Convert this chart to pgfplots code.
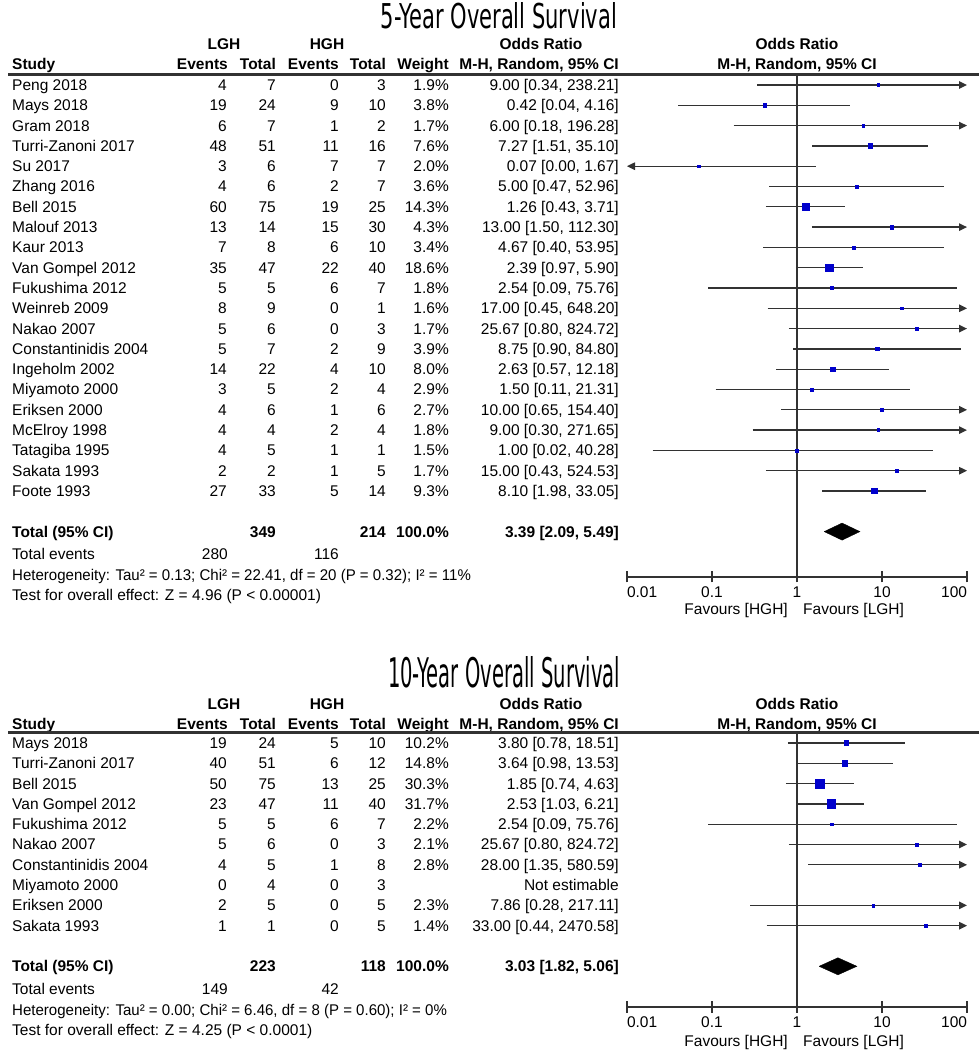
\documentclass[border=0pt]{standalone}
\usepackage{fontspec}
\setmainfont{Liberation Sans}
\newfontfamily\titlefont{DejaVu Sans}
\usepackage{pgfplots}
\pgfplotsset{compat=1.18}
\usetikzlibrary{arrows.meta}
\definecolor{mkblue}{RGB}{0,0,204}
\definecolor{lncol}{RGB}{50,50,50}
\newcommand{\fs}{\fontsize{15.5}{18}\selectfont}
% text helpers: x = pixel position, y = pixel centre from top
\newcommand{\TxR}[3]{\node[anchor=base east,inner sep=0pt] at (#1pt,{(1044.5-(#2))*1pt}) {#3};}
\newcommand{\TxL}[3]{\node[anchor=base west,inner sep=0pt] at (#1pt,{(1044.5-(#2))*1pt}) {#3};}
\newcommand{\TxC}[3]{\node[anchor=base,inner sep=0pt] at (#1pt,{(1044.5-(#2))*1pt}) {#3};}
\newcommand{\trow}[8]{\TxL{12}{#1}{#2}\TxR{227}{#1}{#3}\TxR{276}{#1}{#4}\TxR{339}{#1}{#5}\TxR{386}{#1}{#6}\TxR{449}{#1}{#7}\TxR{619}{#1}{#8}}
\newcommand{\yt}[1]{85+(#1-1)*20.3}
\newcommand{\yb}[1]{743+(#1-1)*20.3}
% study marker: odds ratio, row, half side (pt, from weight)
\newcommand{\mk}[3]{\addplot[only marks, mark=square*, draw=mkblue, fill=mkblue, mark size=#3pt] coordinates {(#1,-#2)};}

\tikzset{
  ci/.style={lncol, line width=1.3pt, mark=none},
  cir/.style={ci, -{Triangle[length=8pt,width=7.5pt]}},
  cil/.style={ci, {Triangle[length=8pt,width=7.5pt]}-},
}

\begin{document}
\begin{tikzpicture}[every node/.style={font=\fs}]
\useasboundingbox (0pt,0pt) rectangle (979pt,1050pt);
\fill[white] (0pt,0pt) rectangle (979pt,1050pt);

% ================= TOP PANEL =================
\node at (499pt,1034pt) {\resizebox{236pt}{26pt}{\titlefont 5-Year Overall Survival}};
\TxC{224}{44}{\textbf{LGH}}
\TxC{327}{44}{\textbf{HGH}}
\TxC{541}{44}{\textbf{Odds Ratio}}
\TxC{797}{44}{\textbf{Odds Ratio}}
\TxL{12}{64}{\textbf{Study}}
\TxR{228}{64}{\textbf{Events}}
\TxR{276}{64}{\textbf{Total}}
\TxR{339}{64}{\textbf{Events}}
\TxR{386}{64}{\textbf{Total}}
\TxR{449}{64}{\textbf{Weight}}
\TxR{619}{64}{\textbf{M-H, Random, 95\% CI}}
\TxC{797}{64}{\textbf{M-H, Random, 95\% CI}}
\draw[lncol, line width=2.2pt] (8pt,975.5pt) -- (979pt,975.5pt);

\trow{\yt{1}}{Peng 2018}{4}{7}{0}{3}{1.9\%}{9.00 [0.34, 238.21]}
\trow{\yt{2}}{Mays 2018}{19}{24}{9}{10}{3.8\%}{0.42 [0.04, 4.16]}
\trow{\yt{3}}{Gram 2018}{6}{7}{1}{2}{1.7\%}{6.00 [0.18, 196.28]}
\trow{\yt{4}}{Turri-Zanoni 2017}{48}{51}{11}{16}{7.6\%}{7.27 [1.51, 35.10]}
\trow{\yt{5}}{Su 2017}{3}{6}{7}{7}{2.0\%}{0.07 [0.00, 1.67]}
\trow{\yt{6}}{Zhang 2016}{4}{6}{2}{7}{3.6\%}{5.00 [0.47, 52.96]}
\trow{\yt{7}}{Bell 2015}{60}{75}{19}{25}{14.3\%}{1.26 [0.43, 3.71]}
\trow{\yt{8}}{Malouf 2013}{13}{14}{15}{30}{4.3\%}{13.00 [1.50, 112.30]}
\trow{\yt{9}}{Kaur 2013}{7}{8}{6}{10}{3.4\%}{4.67 [0.40, 53.95]}
\trow{\yt{10}}{Van Gompel 2012}{35}{47}{22}{40}{18.6\%}{2.39 [0.97, 5.90]}
\trow{\yt{11}}{Fukushima 2012}{5}{5}{6}{7}{1.8\%}{2.54 [0.09, 75.76]}
\trow{\yt{12}}{Weinreb 2009}{8}{9}{0}{1}{1.6\%}{17.00 [0.45, 648.20]}
\trow{\yt{13}}{Nakao 2007}{5}{6}{0}{3}{1.7\%}{25.67 [0.80, 824.72]}
\trow{\yt{14}}{Constantinidis 2004}{5}{7}{2}{9}{3.9\%}{8.75 [0.90, 84.80]}
\trow{\yt{15}}{Ingeholm 2002}{14}{22}{4}{10}{8.0\%}{2.63 [0.57, 12.18]}
\trow{\yt{16}}{Miyamoto 2000}{3}{5}{2}{4}{2.9\%}{1.50 [0.11, 21.31]}
\trow{\yt{17}}{Eriksen 2000}{4}{6}{1}{6}{2.7\%}{10.00 [0.65, 154.40]}
\trow{\yt{18}}{McElroy 1998}{4}{4}{2}{4}{1.8\%}{9.00 [0.30, 271.65]}
\trow{\yt{19}}{Tatagiba 1995}{4}{5}{1}{1}{1.5\%}{1.00 [0.02, 40.28]}
\trow{\yt{20}}{Sakata 1993}{2}{2}{1}{5}{1.7\%}{15.00 [0.43, 524.53]}
\trow{\yt{21}}{Foote 1993}{27}{33}{5}{14}{9.3\%}{8.10 [1.98, 33.05]}
\trow{\yt{23}}{\textbf{Total (95\% CI)}}{}{\textbf{349}}{}{\textbf{214}}{\textbf{100.0\%}}{\textbf{3.39 [2.09, 5.49]}}
\TxL{12}{554}{Total events}
\TxR{228}{554}{280}
\TxR{339}{554}{116}
\TxL{12}{575}{\scalebox{0.97}[1]{Heterogeneity: Tau² = 0.13; Chi² = 22.41, df = 20 (P = 0.32); I² = 11\%}}
\TxL{12}{595}{Test for overall effect: Z = 4.96 (P < 0.00001)}
\TxR{788}{609}{Favours [HGH]}
\TxL{803}{609}{Favours [LGH]}

\begin{axis}[at={(627pt,473pt)}, anchor=south west, scale only axis, width=340pt, height=502.5pt,
    ymin=-25.236, ymax=-0.483,
    xmode=log, xmin=0.01, xmax=100,
    axis x line=bottom, axis y line=none,
    axis line style={-, lncol, line width=1.4pt},
    xtick={0.01,0.1,1,10,100}, xticklabels={\rlap{0.01},0.1,1,10,\llap{100}},
    xminorticks=false,
    tick align=center, major tick length=11pt,
    tick style={lncol, line width=1.4pt},
    xticklabel style={font=\fs, anchor=base, yshift=-15pt, inner sep=0pt},
    clip=false]
\addplot[lncol, line width=1.6pt] coordinates {(1,-0.483) (1,-25.236)};
\addplot[cir] coordinates {(0.34,-1) (100,-1)};
\addplot[ci]  coordinates {(0.04,-2) (4.16,-2)};
\addplot[cir] coordinates {(0.18,-3) (100,-3)};
\addplot[ci]  coordinates {(1.51,-4) (35.10,-4)};
\addplot[cil] coordinates {(0.01,-5) (1.67,-5)};
\addplot[ci]  coordinates {(0.47,-6) (52.96,-6)};
\addplot[ci]  coordinates {(0.43,-7) (3.71,-7)};
\addplot[cir] coordinates {(1.50,-8) (100,-8)};
\addplot[ci]  coordinates {(0.40,-9) (53.95,-9)};
\addplot[ci]  coordinates {(0.97,-10) (5.90,-10)};
\addplot[ci]  coordinates {(0.09,-11) (75.76,-11)};
\addplot[cir] coordinates {(0.45,-12) (100,-12)};
\addplot[cir] coordinates {(0.80,-13) (100,-13)};
\addplot[ci]  coordinates {(0.90,-14) (84.80,-14)};
\addplot[ci]  coordinates {(0.57,-15) (12.18,-15)};
\addplot[ci]  coordinates {(0.11,-16) (21.31,-16)};
\addplot[cir] coordinates {(0.65,-17) (100,-17)};
\addplot[cir] coordinates {(0.30,-18) (100,-18)};
\addplot[ci]  coordinates {(0.02,-19) (40.28,-19)};
\addplot[cir] coordinates {(0.43,-20) (100,-20)};
\addplot[ci]  coordinates {(1.98,-21) (33.05,-21)};
\mk{9.00}{1}{1.4}
\mk{0.42}{2}{1.66}
\mk{6.00}{3}{1.4}
\mk{7.27}{4}{2.34}
\mk{0.07}{5}{1.4}
\mk{5.00}{6}{1.61}
\mk{1.26}{7}{3.21}
\mk{13.00}{8}{1.76}
\mk{4.67}{9}{1.57}
\mk{2.39}{10}{3.67}
\mk{2.54}{11}{1.4}
\mk{17.00}{12}{1.4}
\mk{25.67}{13}{1.4}
\mk{8.75}{14}{1.68}
\mk{2.63}{15}{2.4}
\mk{1.50}{16}{1.45}
\mk{10.00}{17}{1.4}
\mk{9.00}{18}{1.4}
\mk{1.00}{19}{1.4}
\mk{15.00}{20}{1.4}
\mk{8.10}{21}{2.59}
\addplot[fill=black, draw=black] coordinates {(2.09,-23) (3.39,-22.58) (5.49,-23) (3.39,-23.42) (2.09,-23)};
\end{axis}

% ================= BOTTOM PANEL =================
\node at (504pt,378pt) {\resizebox{232pt}{31pt}{\titlefont 10-Year Overall Survival}};
\TxC{224}{704}{\textbf{LGH}}
\TxC{327}{704}{\textbf{HGH}}
\TxC{541}{704}{\textbf{Odds Ratio}}
\TxC{797}{704}{\textbf{Odds Ratio}}
\TxL{12}{724}{\textbf{Study}}
\TxR{228}{724}{\textbf{Events}}
\TxR{276}{724}{\textbf{Total}}
\TxR{339}{724}{\textbf{Events}}
\TxR{386}{724}{\textbf{Total}}
\TxR{449}{724}{\textbf{Weight}}
\TxR{619}{724}{\textbf{M-H, Random, 95\% CI}}
\TxC{797}{724}{\textbf{M-H, Random, 95\% CI}}
\draw[lncol, line width=2.2pt] (8pt,317.5pt) -- (979pt,317.5pt);

\trow{\yb{1}}{Mays 2018}{19}{24}{5}{10}{10.2\%}{3.80 [0.78, 18.51]}
\trow{\yb{2}}{Turri-Zanoni 2017}{40}{51}{6}{12}{14.8\%}{3.64 [0.98, 13.53]}
\trow{\yb{3}}{Bell 2015}{50}{75}{13}{25}{30.3\%}{1.85 [0.74, 4.63]}
\trow{\yb{4}}{Van Gompel 2012}{23}{47}{11}{40}{31.7\%}{2.53 [1.03, 6.21]}
\trow{\yb{5}}{Fukushima 2012}{5}{5}{6}{7}{2.2\%}{2.54 [0.09, 75.76]}
\trow{\yb{6}}{Nakao 2007}{5}{6}{0}{3}{2.1\%}{25.67 [0.80, 824.72]}
\trow{\yb{7}}{Constantinidis 2004}{4}{5}{1}{8}{2.8\%}{28.00 [1.35, 580.59]}
\trow{\yb{8}}{Miyamoto 2000}{0}{4}{0}{3}{}{Not estimable}
\trow{\yb{9}}{Eriksen 2000}{2}{5}{0}{5}{2.3\%}{7.86 [0.28, 217.11]}
\trow{\yb{10}}{Sakata 1993}{1}{1}{0}{5}{1.4\%}{33.00 [0.44, 2470.58]}
\trow{\yb{12}}{\textbf{Total (95\% CI)}}{}{\textbf{223}}{}{\textbf{118}}{\textbf{100.0\%}}{\textbf{3.03 [1.82, 5.06]}}
\TxL{12}{989}{Total events}
\TxR{228}{989}{149}
\TxR{339}{989}{42}
\TxL{12}{1010}{\scalebox{0.97}[1]{Heterogeneity: Tau² = 0.00; Chi² = 6.46, df = 8 (P = 0.60); I² = 0\%}}
\TxL{12}{1030}{Test for overall effect: Z = 4.25 (P < 0.0001)}
\TxR{788}{1041}{Favours [HGH]}
\TxL{803}{1041}{Favours [LGH]}

\begin{axis}[at={(627pt,43pt)}, anchor=south west, scale only axis, width=340pt, height=274.5pt,
    ymin=-14.005, ymax=-0.483,
    xmode=log, xmin=0.01, xmax=100,
    axis x line=bottom, axis y line=none,
    axis line style={-, lncol, line width=1.4pt},
    xtick={0.01,0.1,1,10,100}, xticklabels={\rlap{0.01},0.1,1,10,\llap{100}},
    xminorticks=false,
    tick align=center, major tick length=11pt,
    tick style={lncol, line width=1.4pt},
    xticklabel style={font=\fs, anchor=base, yshift=-15pt, inner sep=0pt},
    clip=false]
\addplot[lncol, line width=1.6pt] coordinates {(1,-0.483) (1,-14.005)};
\addplot[ci]  coordinates {(0.78,-1) (18.51,-1)};
\addplot[ci]  coordinates {(0.98,-2) (13.53,-2)};
\addplot[ci]  coordinates {(0.74,-3) (4.63,-3)};
\addplot[ci]  coordinates {(1.03,-4) (6.21,-4)};
\addplot[ci]  coordinates {(0.09,-5) (75.76,-5)};
\addplot[cir] coordinates {(0.80,-6) (100,-6)};
\addplot[cir] coordinates {(1.35,-7) (100,-7)};
\addplot[cir] coordinates {(0.28,-9) (100,-9)};
\addplot[cir] coordinates {(0.44,-10) (100,-10)};
\mk{3.80}{1}{2.4}
\mk{3.64}{2}{2.6}
\mk{1.85}{3}{4.29}
\mk{2.53}{4}{4.39}
\mk{2.54}{5}{1.4}
\mk{25.67}{6}{1.4}
\mk{28.00}{7}{1.4}
\mk{7.86}{9}{1.4}
\mk{33.00}{10}{1.4}
\addplot[fill=black, draw=black] coordinates {(1.82,-12) (3.03,-11.58) (5.06,-12) (3.03,-12.42) (1.82,-12)};
\end{axis}
\end{tikzpicture}
\end{document}
